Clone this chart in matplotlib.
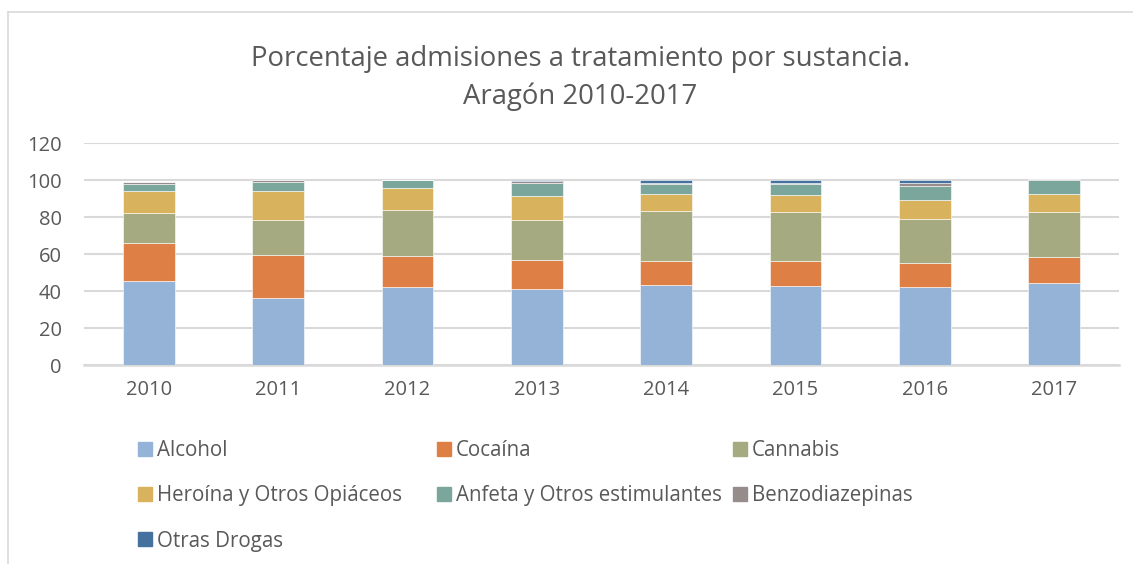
import matplotlib.pyplot as plt
from matplotlib.patches import Rectangle
from matplotlib.lines import Line2D
import numpy as np

plt.rcParams['font.family'] = ['Open Sans', 'DejaVu Sans']

years = ['2010', '2011', '2012', '2013', '2014', '2015', '2016', '2017']
series = ['Alcohol', 'Cocaína', 'Cannabis', 'Heroína y Otros Opiáceos',
          'Anfeta y Otros estimulantes', 'Benzodiazepinas', 'Otras Drogas']
colors = ['#95B3D7', '#DE8046', '#A5AA80', '#D9B25D', '#7BA69B', '#968C8C', '#44719E']

alcohol = [45.6, 36.2, 42.2, 41.3, 43.5, 42.9, 42.4, 44.2]
cocaina = [20.5, 23.4, 16.7, 15.4, 12.7, 13.4, 12.9, 14.3]
cannabis = [16.1, 18.8, 25.2, 21.6, 27.1, 26.3, 23.7, 24.1]
heroina = [12.0, 15.8, 11.5, 13.0, 9.1, 9.6, 10.4, 10.2]
anfeta = [4.0, 5.1, 4.4, 7.4, 5.4, 5.6, 7.6, 7.6]
benzo = [0.8, 1.0, 0.3, 0.9, 0.9, 0.9, 1.4, 0.2]
otras = [0.0, 0.0, 0.0, 0.5, 1.4, 1.3, 1.6, 0.0]
values = [alcohol, cocaina, cannabis, heroina, anfeta, benzo, otras]

txt = '#595959'
fig = plt.figure(figsize=(11.33, 5.64), dpi=100)
ax = fig.add_axes([0.0741, 0.3528, 0.9135, 0.3931])

x = np.arange(len(years))
bottom = np.zeros(len(years))
for name, vals, c in zip(series, values, colors):
    ax.bar(x, vals, 0.40, bottom=bottom, color=c, edgecolor='white', linewidth=0.4, zorder=3)
    bottom += np.array(vals)

ax.set_xlim(-0.5, 7.5)
ax.set_ylim(0, 120)
ax.set_yticks(range(0, 121, 20))
ax.set_xticks(x)
ax.set_xticklabels(years)
ax.yaxis.grid(True, color='#D9D9D9', linewidth=1.5, zorder=0)
for s in ['top', 'right', 'left']:
    ax.spines[s].set_visible(False)
ax.spines['bottom'].set_color('#D9D9D9')
ax.spines['bottom'].set_linewidth(1.8)
ax.tick_params(length=0, labelsize=14.5, colors=txt)
ax.tick_params(axis='y', pad=16)
ax.tick_params(axis='x', pad=11)

fig.text(0.512, 0.896, 'Porcentaje admisiones a tratamiento por sustancia.',
         ha='center', va='center', fontsize=19.8, color=txt)
fig.text(0.512, 0.829, 'Aragón 2010-2017', ha='center', va='center', fontsize=19.8, color=txt)

# legend, Excel-style three columns
col_x = [138, 437, 733]
row_y = [449, 494, 539]
W, H = 1133, 564
for i, (name, c) in enumerate(zip(series, colors)):
    cx = col_x[i % 3]
    cy = row_y[i // 3]
    fig.patches.append(Rectangle((cx / W, 1 - (cy + 7) / H), 14 / W, 14 / H,
                                 transform=fig.transFigure, color=c))
    fig.text((cx + 19) / W, 1 - (cy + 2) / H, name, ha='left', va='center',
             fontsize=14.8, color=txt)

# chart border
fig.add_artist(Line2D([8 / W, 8 / W], [0, 1 - 12 / H], transform=fig.transFigure,
                      color='#D9D9D9', linewidth=1.2))
fig.add_artist(Line2D([8 / W, 1], [1 - 12 / H, 1 - 12 / H], transform=fig.transFigure,
                      color='#D9D9D9', linewidth=1.2))

fig.savefig('out.png', dpi=100)
